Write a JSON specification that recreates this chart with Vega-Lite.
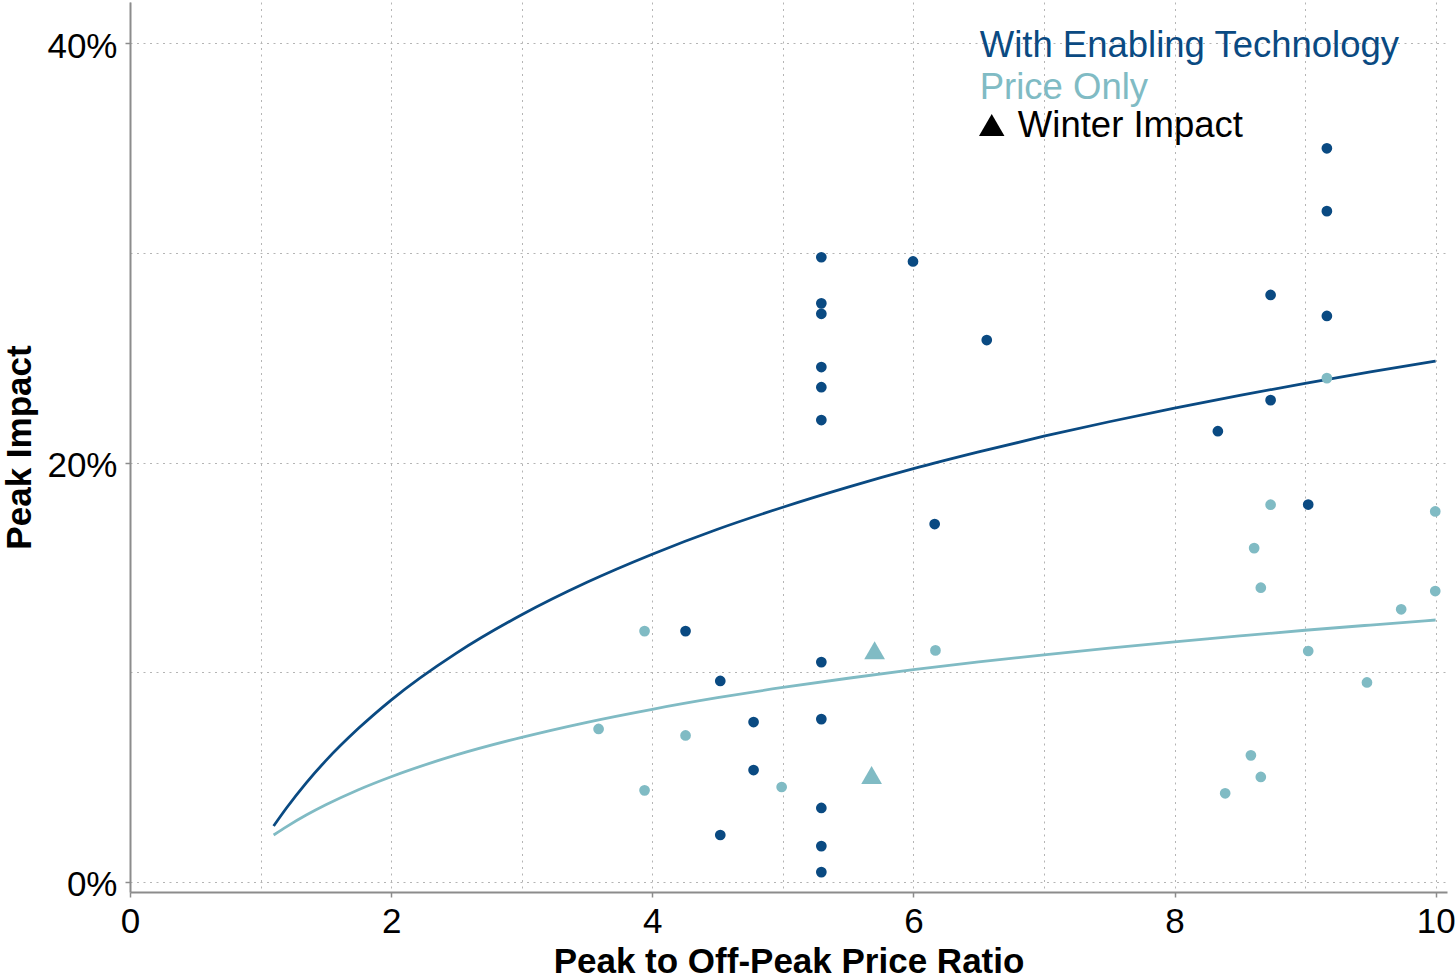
{
  "$schema": "https://vega.github.io/schema/vega-lite/v6.json",
  "width": 1317,
  "height": 890,
  "autosize": {"type": "none"},
  "padding": {"left": 130, "top": 2, "right": 8, "bottom": 88},
  "background": "white",
  "config": {"view": {"stroke": null}, "font": "Liberation Sans"},
  "datasets": {
    "points": [
      {"ratio": 9.167, "impact": 0.350, "series": "With Enabling Technology", "season": "Summer"},
      {"ratio": 9.167, "impact": 0.320, "series": "With Enabling Technology", "season": "Summer"},
      {"ratio": 5.295, "impact": 0.298, "series": "With Enabling Technology", "season": "Summer"},
      {"ratio": 5.997, "impact": 0.296, "series": "With Enabling Technology", "season": "Summer"},
      {"ratio": 8.736, "impact": 0.280, "series": "With Enabling Technology", "season": "Summer"},
      {"ratio": 5.295, "impact": 0.276, "series": "With Enabling Technology", "season": "Summer"},
      {"ratio": 5.295, "impact": 0.271, "series": "With Enabling Technology", "season": "Summer"},
      {"ratio": 9.167, "impact": 0.270, "series": "With Enabling Technology", "season": "Summer"},
      {"ratio": 6.562, "impact": 0.2585, "series": "With Enabling Technology", "season": "Summer"},
      {"ratio": 5.295, "impact": 0.2456, "series": "With Enabling Technology", "season": "Summer"},
      {"ratio": 5.295, "impact": 0.236, "series": "With Enabling Technology", "season": "Summer"},
      {"ratio": 8.736, "impact": 0.2298, "series": "With Enabling Technology", "season": "Summer"},
      {"ratio": 5.295, "impact": 0.2203, "series": "With Enabling Technology", "season": "Summer"},
      {"ratio": 8.332, "impact": 0.215, "series": "With Enabling Technology", "season": "Summer"},
      {"ratio": 9.024, "impact": 0.180, "series": "With Enabling Technology", "season": "Summer"},
      {"ratio": 6.163, "impact": 0.1707, "series": "With Enabling Technology", "season": "Summer"},
      {"ratio": 4.255, "impact": 0.1196, "series": "With Enabling Technology", "season": "Summer"},
      {"ratio": 5.295, "impact": 0.1048, "series": "With Enabling Technology", "season": "Summer"},
      {"ratio": 4.521, "impact": 0.0958, "series": "With Enabling Technology", "season": "Summer"},
      {"ratio": 4.776, "impact": 0.0762, "series": "With Enabling Technology", "season": "Summer"},
      {"ratio": 5.295, "impact": 0.0776, "series": "With Enabling Technology", "season": "Summer"},
      {"ratio": 4.776, "impact": 0.0533, "series": "With Enabling Technology", "season": "Summer"},
      {"ratio": 5.295, "impact": 0.0352, "series": "With Enabling Technology", "season": "Summer"},
      {"ratio": 4.521, "impact": 0.0223, "series": "With Enabling Technology", "season": "Summer"},
      {"ratio": 5.295, "impact": 0.0170, "series": "With Enabling Technology", "season": "Summer"},
      {"ratio": 5.295, "impact": 0.0046, "series": "With Enabling Technology", "season": "Summer"},
      {"ratio": 3.941, "impact": 0.1196, "series": "Price Only", "season": "Summer"},
      {"ratio": 3.589, "impact": 0.0729, "series": "Price Only", "season": "Summer"},
      {"ratio": 4.255, "impact": 0.0698, "series": "Price Only", "season": "Summer"},
      {"ratio": 3.941, "impact": 0.0436, "series": "Price Only", "season": "Summer"},
      {"ratio": 4.991, "impact": 0.0452, "series": "Price Only", "season": "Summer"},
      {"ratio": 6.169, "impact": 0.1104, "series": "Price Only", "season": "Summer"},
      {"ratio": 9.167, "impact": 0.2403, "series": "Price Only", "season": "Summer"},
      {"ratio": 8.736, "impact": 0.1799, "series": "Price Only", "season": "Summer"},
      {"ratio": 9.997, "impact": 0.1767, "series": "Price Only", "season": "Summer"},
      {"ratio": 8.610, "impact": 0.1592, "series": "Price Only", "season": "Summer"},
      {"ratio": 8.661, "impact": 0.1403, "series": "Price Only", "season": "Summer"},
      {"ratio": 9.997, "impact": 0.1387, "series": "Price Only", "season": "Summer"},
      {"ratio": 9.736, "impact": 0.1300, "series": "Price Only", "season": "Summer"},
      {"ratio": 9.024, "impact": 0.1101, "series": "Price Only", "season": "Summer"},
      {"ratio": 9.474, "impact": 0.0951, "series": "Price Only", "season": "Summer"},
      {"ratio": 8.585, "impact": 0.0603, "series": "Price Only", "season": "Summer"},
      {"ratio": 8.661, "impact": 0.0500, "series": "Price Only", "season": "Summer"},
      {"ratio": 8.388, "impact": 0.0422, "series": "Price Only", "season": "Summer"},
      {"ratio": 5.703, "impact": 0.1105, "series": "Price Only", "season": "Winter"},
      {"ratio": 5.680, "impact": 0.0509, "series": "Price Only", "season": "Winter"}
    ],
    "fits": [
      {"ratio": 1.1, "impact": 0.0266, "series": "With Enabling Technology"},
      {"ratio": 1.2, "impact": 0.0353, "series": "With Enabling Technology"},
      {"ratio": 1.35, "impact": 0.0472, "series": "With Enabling Technology"},
      {"ratio": 1.5, "impact": 0.0578, "series": "With Enabling Technology"},
      {"ratio": 1.75, "impact": 0.0732, "series": "With Enabling Technology"},
      {"ratio": 2, "impact": 0.0867, "series": "With Enabling Technology"},
      {"ratio": 2.5, "impact": 0.1091, "series": "With Enabling Technology"},
      {"ratio": 3, "impact": 0.1274, "series": "With Enabling Technology"},
      {"ratio": 3.5, "impact": 0.1429, "series": "With Enabling Technology"},
      {"ratio": 4, "impact": 0.1563, "series": "With Enabling Technology"},
      {"ratio": 4.5, "impact": 0.1682, "series": "With Enabling Technology"},
      {"ratio": 5, "impact": 0.1787, "series": "With Enabling Technology"},
      {"ratio": 5.5, "impact": 0.1883, "series": "With Enabling Technology"},
      {"ratio": 6, "impact": 0.1971, "series": "With Enabling Technology"},
      {"ratio": 6.5, "impact": 0.2051, "series": "With Enabling Technology"},
      {"ratio": 7, "impact": 0.2126, "series": "With Enabling Technology"},
      {"ratio": 7.5, "impact": 0.2195, "series": "With Enabling Technology"},
      {"ratio": 8, "impact": 0.2260, "series": "With Enabling Technology"},
      {"ratio": 8.5, "impact": 0.2321, "series": "With Enabling Technology"},
      {"ratio": 9, "impact": 0.2378, "series": "With Enabling Technology"},
      {"ratio": 9.5, "impact": 0.2433, "series": "With Enabling Technology"},
      {"ratio": 10, "impact": 0.2484, "series": "With Enabling Technology"},
      {"ratio": 1.1, "impact": 0.0223, "series": "Price Only"},
      {"ratio": 1.2, "impact": 0.0263, "series": "Price Only"},
      {"ratio": 1.35, "impact": 0.0318, "series": "Price Only"},
      {"ratio": 1.5, "impact": 0.0367, "series": "Price Only"},
      {"ratio": 1.75, "impact": 0.0439, "series": "Price Only"},
      {"ratio": 2, "impact": 0.0501, "series": "Price Only"},
      {"ratio": 2.5, "impact": 0.0605, "series": "Price Only"},
      {"ratio": 3, "impact": 0.0689, "series": "Price Only"},
      {"ratio": 3.5, "impact": 0.0761, "series": "Price Only"},
      {"ratio": 4, "impact": 0.0823, "series": "Price Only"},
      {"ratio": 4.5, "impact": 0.0878, "series": "Price Only"},
      {"ratio": 5, "impact": 0.0927, "series": "Price Only"},
      {"ratio": 5.5, "impact": 0.0971, "series": "Price Only"},
      {"ratio": 6, "impact": 0.1012, "series": "Price Only"},
      {"ratio": 6.5, "impact": 0.1049, "series": "Price Only"},
      {"ratio": 7, "impact": 0.1083, "series": "Price Only"},
      {"ratio": 7.5, "impact": 0.1115, "series": "Price Only"},
      {"ratio": 8, "impact": 0.1145, "series": "Price Only"},
      {"ratio": 8.5, "impact": 0.1173, "series": "Price Only"},
      {"ratio": 9, "impact": 0.1200, "series": "Price Only"},
      {"ratio": 9.5, "impact": 0.1225, "series": "Price Only"},
      {"ratio": 10, "impact": 0.1249, "series": "Price Only"}
    ],
    "legend": [
      {"label": "With Enabling Technology"},
      {"label": "Price Only"},
      {"label": "Winter Impact"}
    ]
  },
  "layer": [
    {
      "data": {"name": "fits"},
      "mark": {"type": "line", "strokeWidth": 2.8, "interpolate": "monotone"},
      "encoding": {
        "x": {
          "field": "ratio", "type": "quantitative",
          "scale": {"domain": [0, 10.087], "nice": false, "zero": false},
          "axis": {
            "title": "Peak to Off-Peak Price Ratio",
            "values": [0, 1, 2, 3, 4, 5, 6, 7, 8, 9, 10],
            "format": "d",
            "labelExpr": "datum.value % 2 == 0 ? datum.label : ''",
            "grid": true, "gridColor": "#B4B4B4", "gridDash": [2, 4.5], "gridWidth": 1,
            "domainColor": "#8C8C8C", "domainWidth": 2,
            "tickColor": "#8C8C8C", "tickWidth": 1.5, "tickSize": 5,
            "tickOpacity": {"condition": {"test": "datum.value % 2 != 0", "value": 0}, "value": 1},
            "labelFontSize": 35, "labelColor": "#000000", "labelPadding": 7,
            "labelFlush": false, "labelOverlap": false,
            "titleFontSize": 35, "titleFontWeight": "bold", "titleColor": "#000000", "titlePadding": 5
          }
        },
        "y": {
          "field": "impact", "type": "quantitative",
          "scale": {"domain": [-0.0049, 0.4198], "nice": false, "zero": false},
          "axis": {
            "title": "Peak Impact",
            "values": [0, 0.1, 0.2, 0.3, 0.4],
            "format": ".0%",
            "labelExpr": "(datum.value == 0.1 || datum.value == 0.3) ? '' : datum.label",
            "grid": true, "gridColor": "#B4B4B4", "gridDash": [2, 4.5], "gridWidth": 1,
            "domainColor": "#8C8C8C", "domainWidth": 2,
            "tickColor": "#8C8C8C", "tickWidth": 1.5, "tickSize": 5,
            "tickOpacity": {"condition": {"test": "datum.value == 0.1 || datum.value == 0.3", "value": 0}, "value": 1},
            "labelFontSize": 35, "labelColor": "#000000", "labelPadding": 8, "labelOffset": 3,
            "labelOverlap": false,
            "titleFontSize": 35, "titleFontWeight": "bold", "titleColor": "#000000", "titlePadding": 9
          }
        },
        "color": {
          "field": "series", "type": "nominal",
          "scale": {"domain": ["With Enabling Technology", "Price Only"], "range": ["#0A4A82", "#80BBC4"]},
          "legend": null
        }
      }
    },
    {
      "data": {"name": "points"},
      "transform": [{"filter": "datum.season == 'Summer'"}],
      "mark": {"type": "point", "shape": "circle", "filled": true, "opacity": 1, "size": 115},
      "encoding": {
        "x": {"field": "ratio", "type": "quantitative"},
        "y": {"field": "impact", "type": "quantitative"},
        "color": {"field": "series", "type": "nominal", "legend": null}
      }
    },
    {
      "data": {"name": "points"},
      "transform": [{"filter": "datum.season == 'Winter'"}],
      "mark": {"type": "point", "shape": "triangle-up", "filled": true, "opacity": 1, "size": 430},
      "encoding": {
        "x": {"field": "ratio", "type": "quantitative"},
        "y": {"field": "impact", "type": "quantitative"},
        "color": {"field": "series", "type": "nominal", "legend": null}
      }
    },
    {
      "data": {"name": "legend"},
      "transform": [{"filter": "datum.label == 'With Enabling Technology'"}],
      "mark": {"type": "text", "align": "left", "baseline": "alphabetic", "fontSize": 36.5, "color": "#0A4A82"},
      "encoding": {
        "x": {"datum": 6.508, "type": "quantitative"},
        "y": {"datum": 0.3934, "type": "quantitative"},
        "text": {"field": "label"}
      }
    },
    {
      "data": {"name": "legend"},
      "transform": [{"filter": "datum.label == 'Price Only'"}],
      "mark": {"type": "text", "align": "left", "baseline": "alphabetic", "fontSize": 36.5, "color": "#80BBC4"},
      "encoding": {
        "x": {"datum": 6.508, "type": "quantitative"},
        "y": {"datum": 0.3735, "type": "quantitative"},
        "text": {"field": "label"}
      }
    },
    {
      "data": {"name": "legend"},
      "transform": [{"filter": "datum.label == 'Winter Impact'"}],
      "mark": {"type": "text", "align": "left", "baseline": "alphabetic", "fontSize": 36.5, "color": "#000000"},
      "encoding": {
        "x": {"datum": 6.80, "type": "quantitative"},
        "y": {"datum": 0.3552, "type": "quantitative"},
        "text": {"field": "label"}
      }
    },
    {
      "data": {"name": "legend"},
      "transform": [{"filter": "datum.label == 'Winter Impact'"}],
      "mark": {"type": "point", "shape": "triangle-up", "filled": true, "opacity": 1, "size": 650, "color": "#000000"},
      "encoding": {
        "x": {"datum": 6.60, "type": "quantitative"},
        "y": {"datum": 0.3611, "type": "quantitative"}
      }
    }
  ]
}
